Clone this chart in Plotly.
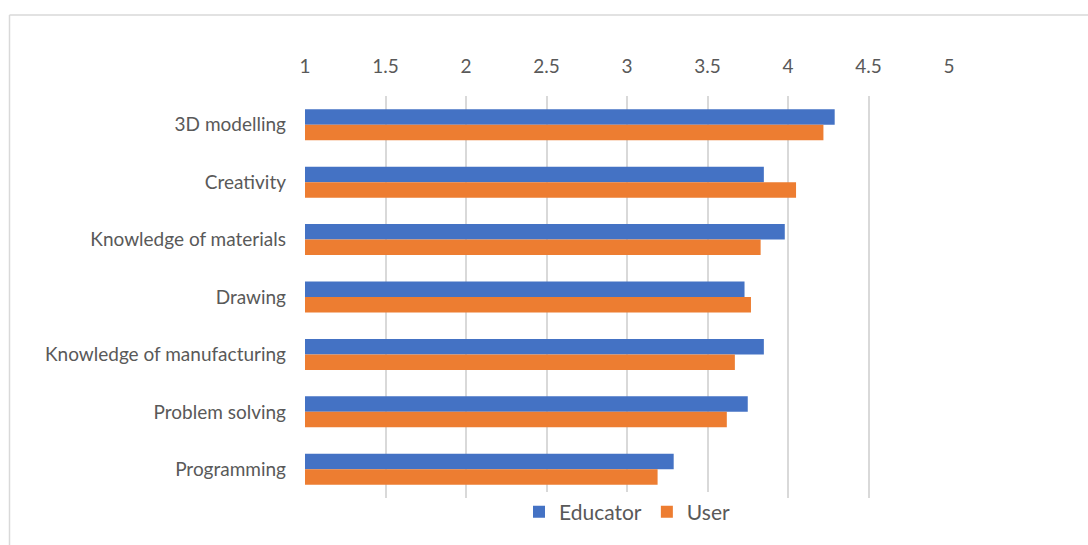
import plotly.graph_objects as go

categories = ["3D modelling", "Creativity", "Knowledge of materials", "Drawing",
              "Knowledge of manufacturing", "Problem solving", "Programming"]
educator = [4.29, 3.85, 3.98, 3.73, 3.85, 3.75, 3.29]
user = [4.22, 4.05, 3.83, 3.77, 3.67, 3.62, 3.19]
tick_vals = [1, 1.5, 2, 2.5, 3, 3.5, 4, 4.5, 5]
tick_text = ["1", "1.5", "2", "2.5", "3", "3.5", "4", "4.5", "5"]

FONT = "Lato, Open Sans, sans-serif"
GRAY = "#595959"

fig = go.Figure()
fig.add_trace(go.Bar(y=categories, x=[v - 1 for v in educator], base=1, orientation="h",
                     name="Educator", marker=dict(color="#4472C4", line=dict(width=0))))
fig.add_trace(go.Bar(y=categories, x=[v - 1 for v in user], base=1, orientation="h",
                     name="User", marker=dict(color="#ED7D31", line=dict(width=0))))

fig.update_layout(
    width=1088, height=545,
    margin=dict(l=305, r=139, t=96, b=45),
    paper_bgcolor="white", plot_bgcolor="white",
    barmode="group", bargap=0.46, bargroupgap=0,
    font=dict(family=FONT, size=19, color=GRAY),
    showlegend=True,
    legend=dict(orientation="h", x=0.5, xanchor="center", y=-0.035, yanchor="middle",
                font=dict(size=21, color=GRAY), traceorder="normal",
                itemwidth=30, entrywidthmode="pixels"),
    xaxis=dict(side="top", range=[1, 5], tickvals=tick_vals, ticktext=tick_text,
               showgrid=True, gridcolor="#d9d9d9", gridwidth=1.5, zeroline=False,
               showline=False, ticks="", ticklabelstandoff=18,
               tickfont=dict(size=19, color=GRAY)),
    yaxis=dict(autorange="reversed", showgrid=False, ticks="", showline=False,
               ticklabelstandoff=18, tickfont=dict(size=19, color=GRAY)),
    shapes=[
        dict(type="line", xref="paper", yref="paper",
             x0=(9.5 - 305) / 644, x1=(1100 - 305) / 644,
             y0=1 + (96 - 14.5) / 404, y1=1 + (96 - 14.5) / 404,
             line=dict(color="#d9d9d9", width=1.5)),
        dict(type="line", xref="paper", yref="paper",
             x0=(9.5 - 305) / 644, x1=(9.5 - 305) / 644,
             y0=1 + (96 - 14.5) / 404, y1=-(560 - 500) / 404,
             line=dict(color="#d9d9d9", width=1.5)),
    ],
)
fig.update_layout(margin=dict(b=42))

fig.write_html("out.html")
